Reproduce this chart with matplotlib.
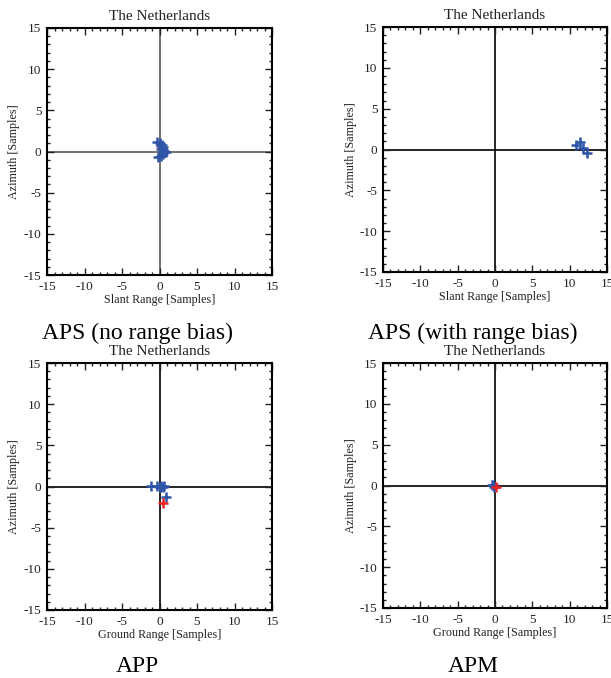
import numpy as np
import matplotlib
matplotlib.use('Agg')
import matplotlib.pyplot as plt
from matplotlib.ticker import MultipleLocator

plt.rcParams['font.family'] = ['Liberation Serif', 'DejaVu Serif']
plt.rcParams['axes.unicode_minus'] = False

# offsets per method: blue = per-scene, red = mean
aps_nobias_x = [-0.3, 0.0, 0.3, 0.5, 0.2, 0.6, 0.9, 0.5, 0.2, -0.2, 0.4]
aps_nobias_y = [1.2, 1.0, 0.8, 0.6, 0.3, 0.1, -0.1, -0.3, -0.5, -0.7, 0.2]
aps_nobias_mean = [0.3, 0.4]

aps_bias_x = [11.4, 10.9, 11.8, 12.3]
aps_bias_y = [0.95, 0.55, 0.15, -0.4]

app_x = [-1.2, -0.3, 0.0, 0.2, 0.4, 0.6, 0.1, 0.8]
app_y = [0.1, 0.1, 0.0, 0.1, 0.0, 0.05, -0.1, -1.25]
app_mean = [0.45, -2.05]

apm_x = [-0.3, -0.2, -0.4]
apm_y = [0.05, -0.2, 0.1]
apm_mean = [0.2, -0.15]

BLUE = '#2f55a8'
RED = '#ee2020'
TXT = '#222222'

W, H = 611, 678
fig = plt.figure(figsize=(W / 100, H / 100), dpi=100)


def box(x0, x1, ytop, ybot):
    return [x0 / W, (H - ybot) / H, (x1 - x0) / W, (ybot - ytop) / H]


def panel(rect, xs, ys, mean, xlabel, zcol='k', mean_front=True):
    ax = fig.add_axes(rect)
    ax.axhline(0, color=zcol, lw=1.2, zorder=1)
    ax.axvline(0, color=zcol, lw=1.2, zorder=1)
    ax.plot(xs, ys, ls='none', marker='+', ms=7, mew=1.8, color=BLUE, zorder=3)
    if mean is not None:
        ax.plot([mean[0]], [mean[1]], ls='none', marker='+', ms=7, mew=1.8, color=RED,
                zorder=4 if mean_front else 2)
    ax.set_xlim(-15, 15)
    ax.set_ylim(-15, 15)
    ax.xaxis.set_major_locator(MultipleLocator(5))
    ax.yaxis.set_major_locator(MultipleLocator(5))
    ax.xaxis.set_minor_locator(MultipleLocator(1))
    ax.yaxis.set_minor_locator(MultipleLocator(1))
    ax.tick_params(which='both', direction='in', top=True, right=True,
                   labelsize=9.5, colors=TXT, pad=4)
    ax.tick_params(which='major', length=5, width=1)
    ax.tick_params(which='minor', length=2.5, width=1)
    for s in ax.spines.values():
        s.set_linewidth(1.5)
    ax.set_title('The Netherlands', fontsize=11, pad=6, color=TXT)
    ax.set_xlabel(xlabel, fontsize=8.7, labelpad=1, color=TXT)
    ax.set_ylabel('Azimuth [Samples]', fontsize=8.7, color=TXT)
    ax.yaxis.set_label_coords(-0.118, 0.5)
    return ax


panel(box(47, 272, 28, 275), aps_nobias_x, aps_nobias_y, aps_nobias_mean,
      'Slant Range [Samples]', zcol='0.35', mean_front=False)
panel(box(383, 607, 27, 272), aps_bias_x, aps_bias_y, None, 'Slant Range [Samples]')
panel(box(47, 272, 363, 610), app_x, app_y, app_mean, 'Ground Range [Samples]')
panel(box(383, 607, 363, 608), apm_x, apm_y, apm_mean, 'Ground Range [Samples]')

captions = [('APS (no range bias)', 137, 333), ('APS (with range bias)', 473, 333),
            ('APP', 137, 667), ('APM', 473, 667)]
for txt, cx, cy in captions:
    fig.text(cx / W, 1 - cy / H, txt, ha='center', va='center', fontsize=17)

fig.savefig('out.png', dpi=100)
